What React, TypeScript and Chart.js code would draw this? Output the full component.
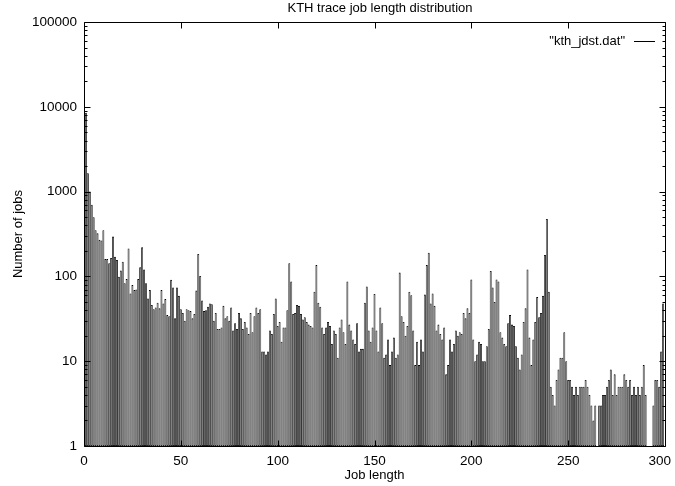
import React, { useEffect, useRef } from 'react';
import { Chart, registerables } from 'chart.js';

Chart.register(...registerables);

const TITLE = 'KTH trace job length distribution';
const X_LABEL = 'Job length';
const Y_LABEL = 'Number of jobs';
const SERIES_NAME = '"kth_jdst.dat"';

const xTicks = [0, 50, 100, 150, 200, 250, 300];
const yTicks = [1, 10, 100, 1000, 10000, 100000];

// number of jobs for job length 0..99
const countsA = [
  null, 8500, 1650, 1000, 700, 500, 350, 322, 270, 265,
  350, 160, 160, 143, 165, 295, 171, 156, 99, 117,
  149, 83, 93, 214, 63, 79, 69, 70, 93, 128,
  220, 121, 83, 55, 69, 46, 41, 43, 49, 42,
  69, 48, 54, 35, 34, 91, 74, 32, 74, 59,
  41, 37, 30, 41, 40, 39, 32, 36, 68, 184,
  101, 52, 39, 40, 44, 48, 47, 30, 37, 24,
  24, 25, 45, 32, 34, 30, 43, 23, 28, 24,
  37, 32, 24, 29, 25, 21, 37, 22, 34, 43,
  37, 41, 13, 13, 12, 13, 23, 21, 36, 55,
];
// job length 100..199
const countsB = [
  26, 29, 17, 25, 25, 40, 143, 87, 36, 37,
  46, 45, 36, 31, 33, 29, 27, 26, 25, 66,
  136, 49, 44, 25, 21, 25, 29, 26, 16, 23,
  21, 11, 25, 31, 22, 16, 87, 27, 23, 18,
  16, 28, 13, 14, 14, 49, 76, 23, 17, 25,
  62, 23, 13, 43, 28, 11, 12, 18, 9, 13,
  19, 11, 12, 111, 34, 29, 20, 26, 66, 60,
  23, 9, 17, 9, 18, 13, 61, 136, 190, 48,
  63, 45, 23, 27, 21, 18, 25, 7, 9, 18,
  13, 16, 23, 20, 22, 21, 37, 32, 42, 37,
];
// job length 200..299
const countsC = [
  92, 18, 10, 12, 17, 16, 10, 10, 15, 24,
  116, 74, 50, 92, 87, 22, 19, 16, 15, 28,
  35, 27, 26, 15, 11, 8, 12, 29, 42, 121,
  19, 9, 18, 29, 57, 33, 37, 59, 179, 475,
  66, 5, 4, 3, 6, 8, 11, 11, 22, 10,
  6, 6, 5, 4, 5, 4, 5, 5, 5, 6,
  5, 4, 3, 2, 3, null, 3, 3, 4, 4,
  5, 6, 8, 4, 7, 4, 5, 5, 5, 7,
  6, 5, 6, 4, 5, 4, 5, 4, 5, 9,
  4, null, null, null, 3, 6, 6, 5, 13, 48,
];

const jobCounts = [...countsA, ...countsB, ...countsC];
const jobLengths = jobCounts.map((_, i) => i);

const FONT_FAMILY = '"Liberation Sans", Arial, Helvetica, sans-serif';
const TICK_SIZE = 13.5;
const LABEL_SIZE = 13;

const decorPlugin = {
  id: 'gnuplotDecor',
  afterDraw(chart: any) {
    const { ctx, chartArea: a, scales } = chart;
    const xs = scales.x;
    const ys = scales.y;
    const L = Math.floor(a.left) + 0.5;
    const R = Math.floor(a.right) + 0.5;
    const T = Math.floor(a.top) + 0.5;
    const B = Math.floor(a.bottom) + 0.5;
    ctx.save();
    ctx.strokeStyle = '#000';
    ctx.lineWidth = 1;
    ctx.beginPath();
    ctx.rect(L, T, R - L, B - T);
    ctx.stroke();

    ctx.beginPath();
    xTicks.forEach((v) => {
      const px = Math.round(xs.getPixelForValue(v)) + 0.5;
      ctx.moveTo(px, B);
      ctx.lineTo(px, B - 6);
      ctx.moveTo(px, T);
      ctx.lineTo(px, T + 6);
    });
    yTicks.forEach((d, k) => {
      const py = Math.round(ys.getPixelForValue(d)) + 0.5;
      ctx.moveTo(L, py);
      ctx.lineTo(L + 6, py);
      ctx.moveTo(R, py);
      ctx.lineTo(R - 6, py);
      if (k < yTicks.length - 1) {
        for (let m = 2; m <= 9; m++) {
          const pm = Math.round(ys.getPixelForValue(d * m)) + 0.5;
          ctx.moveTo(L, pm);
          ctx.lineTo(L + 3, pm);
          ctx.moveTo(R, pm);
          ctx.lineTo(R - 3, pm);
        }
      }
    });
    ctx.stroke();

    ctx.fillStyle = '#000';
    ctx.font = `${TICK_SIZE}px ${FONT_FAMILY}`;
    ctx.textBaseline = 'middle';
    xTicks.forEach((v) => {
      const label = String(v);
      const w = ctx.measureText(label).width;
      let cx = xs.getPixelForValue(v);
      if (cx + w / 2 > chart.width - 4) cx = chart.width - 4 - w / 2;
      ctx.textAlign = 'center';
      ctx.fillText(label, cx, 461);
    });

    ctx.font = `${LABEL_SIZE}px ${FONT_FAMILY}`;
    ctx.textAlign = 'center';
    ctx.fillText(TITLE, 380, 8);
    ctx.fillText(X_LABEL, (a.left + a.right) / 2, 475);
    ctx.save();
    ctx.translate(18, (a.top + a.bottom) / 2);
    ctx.rotate(-Math.PI / 2);
    ctx.fillText(Y_LABEL, 0, 0);
    ctx.restore();
    ctx.textAlign = 'right';
    ctx.fillText(SERIES_NAME, 625, 41);
    ctx.beginPath();
    ctx.moveTo(634, 41.5);
    ctx.lineTo(655, 41.5);
    ctx.stroke();
    ctx.restore();
  },
};

export default function App() {
  const canvasRef = useRef<HTMLCanvasElement | null>(null);

  useEffect(() => {
    const canvas = canvasRef.current;
    if (!canvas) return;
    const tickFont = { family: FONT_FAMILY, size: TICK_SIZE };
    const chart = new Chart(canvas, {
      type: 'bar',
      data: {
        datasets: [
          {
            label: SERIES_NAME,
            data: jobLengths.map((x, i) => ({ x, y: jobCounts[i] })) as any,
            backgroundColor: '#ffffff',
            borderColor: '#000000',
            borderWidth: 0.82,
            borderSkipped: false,
            inflateAmount: 0,
            barPercentage: 1,
            categoryPercentage: 1,
          },
        ],
      },
      options: {
        responsive: false,
        animation: false,
        devicePixelRatio: 1,
        layout: { padding: { left: 0, right: 10, top: 22, bottom: 0 } },
        plugins: {
          legend: { display: false },
          tooltip: { enabled: false },
          title: { display: false },
        },
        scales: {
          x: {
            type: 'linear',
            min: 0,
            max: 300,
            offset: false,
            grid: { display: false, drawTicks: false },
            border: { display: false },
            ticks: { display: false, font: tickFont, autoSkip: false, maxRotation: 0 },
            afterBuildTicks: (s: any) => {
              s.ticks = xTicks.map((v) => ({ value: v }));
            },
            afterFit: (s: any) => {
              s.height = 40;
              s.paddingLeft = 0;
              s.paddingRight = 0;
            },
          },
          y: {
            type: 'logarithmic',
            min: 1,
            max: 100000,
            grid: { display: false, drawTicks: false },
            border: { display: false },
            ticks: {
              font: tickFont,
              color: '#000',
              padding: 7,
              autoSkip: false,
              callback: (v: any) => String(v),
            },
            afterBuildTicks: (s: any) => {
              s.ticks = yTicks.map((v) => ({ value: v }));
            },
            afterFit: (s: any) => {
              s.width = 84;
              s.paddingTop = 0;
              s.paddingBottom = 0;
            },
          },
        },
      } as any,
      plugins: [decorPlugin],
    });
    return () => chart.destroy();
  }, []);

  return (
    <div style={{ position: 'absolute', left: 0, top: 0, width: 675, height: 486, background: '#fff' }}>
      <canvas ref={canvasRef} width={675} height={486} style={{ display: 'block' }} />
    </div>
  );
}
